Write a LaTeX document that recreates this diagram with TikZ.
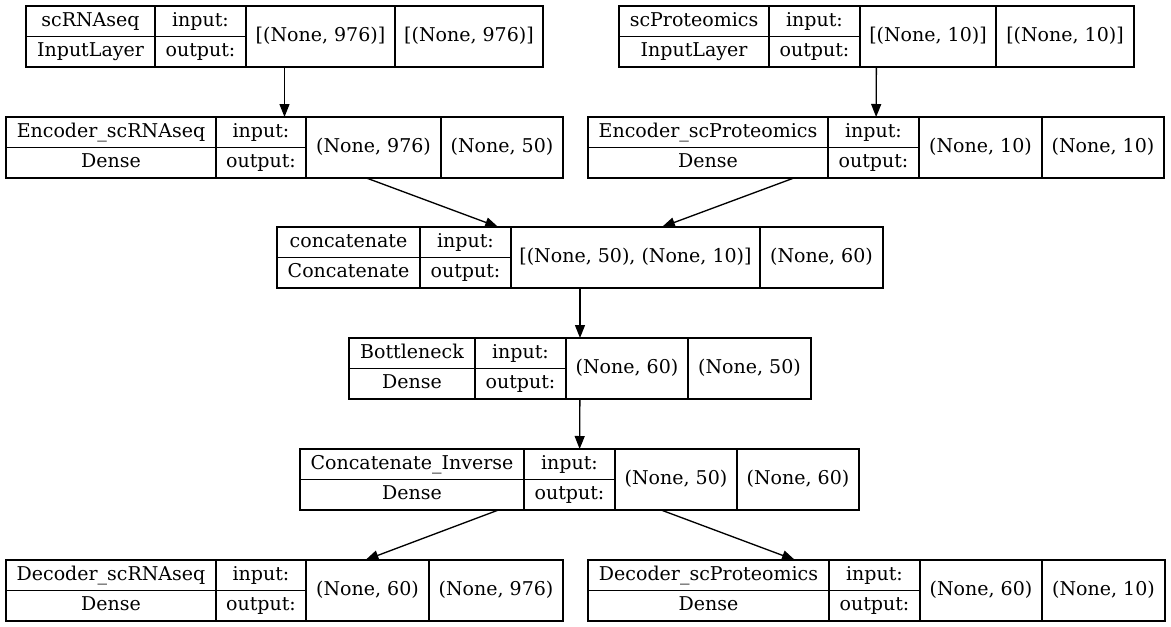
\documentclass[tikz,border=0pt]{standalone}
\usepackage{fontspec}
\setmainfont{DejaVu Serif}
\usetikzlibrary{arrows.meta}
\tikzset{
  rec/.style={draw, line width=1.33pt, rectangle, minimum height=61pt, inner sep=0pt, outer sep=0pt},
  recline/.style={line width=1.33pt},
  lbl/.style={inner sep=0pt, font=\fontsize{19}{23}\selectfont, text height=13pt, text depth=4pt},
  arr/.style={line width=1.33pt, -{Triangle[length=13pt,width=10pt]}}
}
\makeatletter
\def\mkrec#1#2#3#4#5#6#7#8#9{%
  \def\r@n{#1}\def\r@xa{#2}\def\r@da{#3}\def\r@db{#4}\def\r@dc{#5}\def\r@xb{#6}\def\r@y{#7}\def\r@t{#8}\def\r@k{#9}\mkrec@ii}
\def\mkrec@ii#1#2{%
  \pgfmathsetmacro\r@w{\r@xb-\r@xa}%
  \pgfmathsetmacro\r@cx{(\r@xa+\r@xb)/2}%
  \pgfmathsetmacro\r@yb{\r@y+61}%
  \pgfmathsetmacro\r@cy{\r@y+31}%
  \pgfmathsetmacro\r@ta{\r@y+16}%
  \pgfmathsetmacro\r@tb{\r@y+46.25}%
  \pgfmathsetmacro\r@ca{(\r@xa+\r@da)/2}%
  \pgfmathsetmacro\r@cb{(\r@da+\r@db)/2}%
  \pgfmathsetmacro\r@cc{(\r@db+\r@dc)/2}%
  \pgfmathsetmacro\r@cd{(\r@dc+\r@xb)/2}%
  \pgfmathsetmacro\r@my{\r@y+30.5}%
  \node[rec, minimum width=\r@w pt] (\r@n) at (\r@cx,\r@my) {};
  \draw[recline] (\r@da,\r@y) -- (\r@da,\r@yb) (\r@db,\r@y) -- (\r@db,\r@yb)
     (\r@dc,\r@y) -- (\r@dc,\r@yb) (\r@xa,\r@my) -- (\r@db,\r@my);
  \node[lbl] (\r@n-name) at (\r@ca,\r@ta) {\r@t};
  \node[lbl] (\r@n-type) at (\r@ca,\r@tb) {\r@k};
  \node[lbl] (\r@n-in) at (\r@cb,\r@ta) {input:};
  \node[lbl] (\r@n-out) at (\r@cb,\r@tb) {output:};
  \node[lbl] (\r@n-s1) at (\r@cc,\r@cy) {#1};
  \node[lbl] (\r@n-s2) at (\r@cd,\r@cy) {#2};
}
\makeatother
\begin{document}
\begin{tikzpicture}[x=1pt,y=-1pt]
\useasboundingbox (0,0) rectangle (1171,627);
\fill[white] (0,0) rectangle (1171,627);
\mkrec{A}{26}{155}{246}{395}{543}{6}{scRNAseq}{InputLayer}{[(None, 976)]}{[(None, 976)]}
\mkrec{B}{619}{769}{860}{996}{1134}{6}{scProteomics}{InputLayer}{[(None, 10)]}{[(None, 10)]}
\mkrec{C}{6}{216}{306}{441}{563}{117}{Encoder\_scRNAseq}{Dense}{(None, 976)}{(None, 50)}
\mkrec{D}{588}{828}{919}{1042}{1164}{117}{Encoder\_scProteomics}{Dense}{(None, 10)}{(None, 10)}
\mkrec{Cat}{277}{420}{511}{760}{883}{227}{concatenate}{Concatenate}{[(None, 50), (None, 10)]}{(None, 60)}
\mkrec{Bn}{349}{475}{566}{688}{811}{338}{Bottleneck}{Dense}{(None, 60)}{(None, 50)}
\mkrec{CI}{300}{524}{615}{737}{859}{449}{Concatenate\_Inverse}{Dense}{(None, 50)}{(None, 60)}
\mkrec{DL}{6}{216}{306}{429}{563}{560}{Decoder\_scRNAseq}{Dense}{(None, 60)}{(None, 976)}
\mkrec{DR}{588}{829}{920}{1042}{1165}{560}{Decoder\_scProteomics}{Dense}{(None, 60)}{(None, 10)}
\draw[arr] (A) -- (C);
\draw[arr] (B) -- (D);
\draw[arr] (C) -- (Cat);
\draw[arr] (D) -- (Cat);
\draw[arr] (Cat) -- (Bn);
\draw[arr] (Bn) -- (CI);
\draw[arr] (CI) -- (DL);
\draw[arr] (CI) -- (DR);
\end{tikzpicture}
\end{document}
